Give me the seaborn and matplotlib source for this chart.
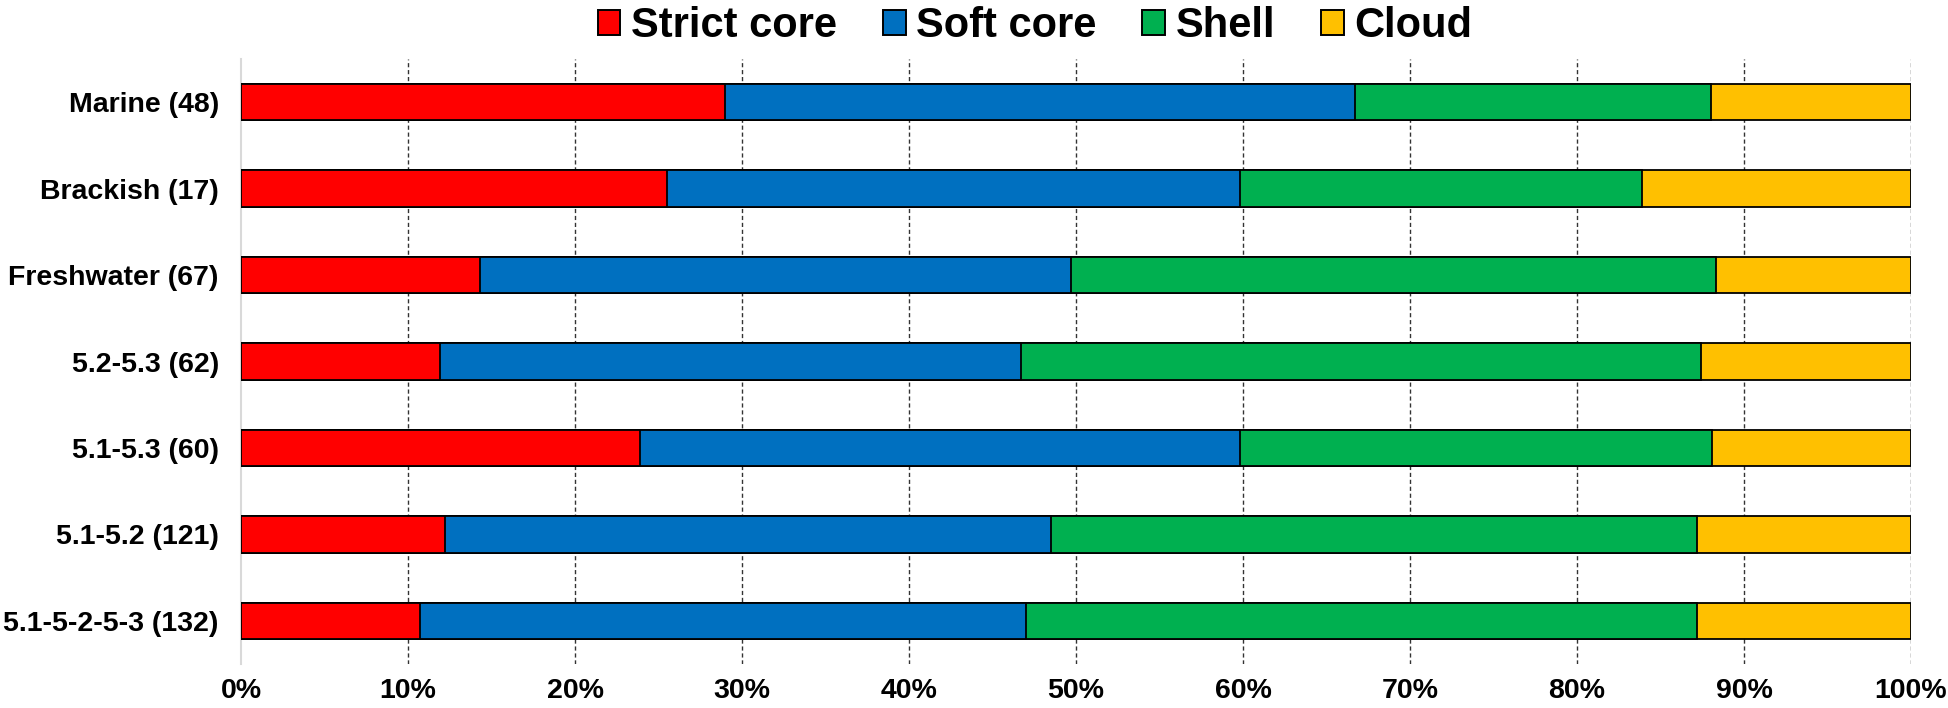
import matplotlib
matplotlib.use('Agg')
import matplotlib.pyplot as plt
import seaborn as sns
import numpy as np
import pandas as pd
from matplotlib.ticker import FuncFormatter
from matplotlib.patches import Patch

# 카테고리 (위에서 아래로)
groups = ['Marine (48)', 'Brackish (17)', 'Freshwater (67)', '5.2-5.3 (62)',
          '5.1-5.3 (60)', '5.1-5.2 (121)', '5.1-5-2-5-3 (132)']

# 각 구간 비율 (%)
strict_core = [29.0, 25.5, 14.3, 11.9, 23.9, 12.2, 10.7]
soft_core   = [37.7, 34.3, 35.4, 34.8, 35.9, 36.3, 36.3]
shell       = [21.3, 24.1, 38.6, 40.7, 28.3, 38.7, 40.2]
cloud       = [12.0, 16.1, 11.7, 12.6, 11.9, 12.8, 12.8]

names = ['Strict core', 'Soft core', 'Shell', 'Cloud']
colors = ['#FF0000', '#0070C0', '#00B050', '#FFC000']

df = pd.DataFrame({'group': groups, 'Strict core': strict_core, 'Soft core': soft_core,
                   'Shell': shell, 'Cloud': cloud})

sns.set_style('white')
plt.rcParams['font.family'] = ['Liberation Sans', 'DejaVu Sans']
plt.rcParams['font.weight'] = 'bold'
plt.rcParams['text.color'] = 'black'
plt.rcParams['xtick.color'] = 'black'
plt.rcParams['ytick.color'] = 'black'

fig = plt.figure(figsize=(19.49, 7.08), dpi=100)
ax = fig.add_axes([0.1237, 0.0621, 0.9805 - 0.1237, 0.9167 - 0.0621])

# 누적 막대 - 가장 긴 것부터 그림
cum = df[names].cumsum(axis=1)
for name, col in reversed(list(zip(names, colors))):
    sns.barplot(x=cum[name], y=df['group'], orient='h', color=col, saturation=1,
                edgecolor='black', linewidth=1.3, width=0.42, ax=ax, zorder=3)

ax.set_xlim(0, 100)
ax.set_ylim(6.5, -0.5)
ax.set_xticks(np.arange(0, 101, 10))
ax.xaxis.set_major_formatter(FuncFormatter(lambda v, p: f'{int(v)}%'))
ax.set_xlabel('')
ax.set_ylabel('')

for v in range(10, 101, 10):
    ax.axvline(v, color='#333333', lw=1.0, ls=(0, (3, 2)), zorder=1)

for s in ['top', 'right', 'bottom']:
    ax.spines[s].set_visible(False)
ax.spines['left'].set_color('#D9D9D9')
ax.spines['left'].set_linewidth(1.5)

ax.tick_params(axis='x', length=0, pad=10, labelsize=20.5, labelcolor='black')
ax.tick_params(axis='y', length=0, pad=16, labelsize=20.5, labelcolor='black')
for lab in ax.get_xticklabels() + ax.get_yticklabels():
    lab.set_fontweight('bold')

handles = [Patch(facecolor=c, edgecolor='black', linewidth=1.4, label=n) for n, c in zip(names, colors)]
fig.legend(handles=handles, loc='upper center', bbox_to_anchor=(0.531, 0.997), ncol=4, frameon=False,
           prop={'weight': 'bold', 'size': 30}, borderaxespad=0, borderpad=0.1,
           handlelength=0.55, handleheight=0.55, handletextpad=0.25, columnspacing=1.1)

fig.savefig('out.png', dpi=100)
